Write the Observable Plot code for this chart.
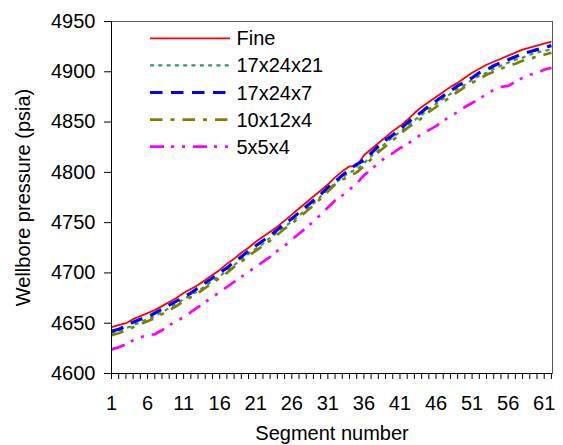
<!DOCTYPE html>
<html>
<head>
<meta charset="utf-8">
<script src="https://cdn.jsdelivr.net/npm/d3@7"></script>
<script src="https://cdn.jsdelivr.net/npm/@observablehq/plot@0.6"></script>
<style>
  html, body { margin: 0; padding: 0; background: #fff; }
  #chart svg { display: block; }
</style>
</head>
<body>
<div id="chart"></div>
<script>
const segments = d3.range(1, 63);
const seriesNames = ["Fine", "17x24x21", "17x24x7", "10x12x4", "5x5x4"];
const xTickLabels = [1, 6, 11, 16, 21, 26, 31, 36, 41, 46, 51, 56, 61];
const yTicks = [4600, 4650, 4700, 4750, 4800, 4850, 4900, 4950];

const fine = [4646,4648,4650,4654,4657,4660,4663,4667,4671,4675,4680,4684,4688,4693,4698,4703,4709,4714,4720,4725,4731,4736,4741,4746,4752,4758,4764,4770,4776,4782,4788,4795,4801,4806,4806,4817,4823,4829,4835,4841,4846,4852,4859,4865,4870,4875,4880,4885,4889,4894,4899,4903,4907,4910,4913,4916,4919,4922,4924,4926,4928,4930];
const g17x24x21 = [4640,4642,4645,4648,4651,4654,4657,4661,4665,4669,4674,4678,4682,4687,4692,4697,4702,4708,4713,4719,4724,4729,4735,4740,4746,4751,4757,4763,4769,4776,4783,4789,4795,4800,4803,4809,4816,4822,4829,4835,4840,4846,4852,4857,4863,4868,4873,4878,4883,4887,4892,4896,4899,4903,4906,4909,4912,4914,4917,4919,4921,4922];
const g17x24x7 = [4642,4644,4647,4651,4654,4656,4660,4664,4668,4672,4676,4680,4685,4690,4695,4700,4705,4711,4716,4722,4727,4732,4737,4743,4749,4754,4760,4766,4772,4778,4785,4791,4797,4803,4808,4812,4819,4826,4832,4837,4843,4849,4855,4860,4866,4871,4876,4881,4886,4890,4894,4899,4902,4906,4909,4912,4915,4918,4920,4922,4924,4926];
const g10x12x4 = [4638,4640,4643,4646,4649,4652,4655,4659,4663,4667,4672,4676,4680,4685,4690,4695,4700,4706,4711,4717,4722,4727,4732,4738,4744,4749,4755,4761,4767,4774,4781,4788,4793,4796,4800,4806,4813,4820,4826,4832,4838,4844,4849,4854,4860,4865,4870,4875,4880,4885,4889,4893,4897,4900,4903,4906,4908,4911,4913,4915,4917,4919];
const g5x5x4 = [4624,4626,4629,4633,4636,4638,4639,4643,4648,4652,4656,4661,4666,4671,4676,4681,4686,4691,4696,4701,4706,4711,4716,4722,4727,4733,4739,4745,4751,4758,4765,4772,4777,4783,4789,4797,4803,4809,4815,4819,4824,4828,4833,4838,4842,4846,4851,4856,4860,4865,4869,4873,4878,4882,4885,4886,4890,4894,4897,4899,4902,4904];

const seriesValues = [fine, g17x24x21, g17x24x7, g10x12x4, g5x5x4];
const styles = [
  {stroke: "#FF0000", strokeWidth: 1.8, dash: null},
  {stroke: "#339966", strokeWidth: 2.2, dash: "4,4.3"},
  {stroke: "#0000FF", strokeWidth: 3.2, dash: "12.5,8.5"},
  {stroke: "#808000", strokeWidth: 2.7, dash: "12.5,8,4,8"},
  {stroke: "#FF00FF", strokeWidth: 2.7, dash: "14,7,3,8,3,8"}
];

const lineMarks = seriesValues.map((vals, k) => {
  const rows = segments.map((s, i) => ({segment: s, value: vals[i]}));
  return Plot.line(rows, {
    x: "segment", y: "value",
    stroke: styles[k].stroke,
    strokeWidth: styles[k].strokeWidth,
    strokeDasharray: styles[k].dash,
    strokeLinecap: "butt"
  });
});

const chart = Plot.plot({
  width: 563,
  height: 445,
  marginLeft: 111,
  marginRight: 11,
  marginTop: 21,
  marginBottom: 72,
  style: {fontFamily: "'Liberation Sans', Arial, sans-serif", fontSize: "20px", background: "#fff", color: "#000"},
  x: {domain: [1, 62.15]},
  y: {domain: [4600, 4950]},
  marks: [
    Plot.frame({stroke: "#555"}),
    ...lineMarks,
    Plot.ruleX([1], {stroke: "#000"}),
    Plot.ruleY([4600], {stroke: "#000"}),
    Plot.axisY({ticks: yTicks, tickSize: 7, tickPadding: 9, fontSize: 20, tickFormat: d3.format("d"),
      label: "Wellbore pressure (psia)", labelAnchor: "center", labelArrow: "none", labelOffset: 96}),
    Plot.axisX({ticks: segments, tickSize: 6, tickFormat: () => "", label: null}),
    Plot.axisX({ticks: xTickLabels, tickSize: 0, tickPadding: 22, fontSize: 20,
      label: "Segment number", labelAnchor: "center", labelArrow: "none", labelOffset: 66})
  ]
});

document.getElementById("chart").appendChild(chart);

// Legend inside the plot area
const svg = d3.select(chart);
const leg = svg.append("g")
  .attr("font-family", "'Liberation Sans', Arial, sans-serif")
  .attr("font-size", 20)
  .attr("text-anchor", "start");
seriesNames.forEach((name, k) => {
  const yy = 38.3 + k * 27.1;
  leg.append("line")
    .attr("x1", 150).attr("x2", 230).attr("y1", yy).attr("y2", yy)
    .attr("stroke", styles[k].stroke)
    .attr("stroke-width", styles[k].strokeWidth)
    .attr("stroke-dasharray", styles[k].dash);
  leg.append("text").attr("x", 236.5).attr("y", yy).attr("dy", "0.35em")
    .attr("text-anchor", "start")
    .attr("fill", "#000").text(name);
});
</script>
</body>
</html>
